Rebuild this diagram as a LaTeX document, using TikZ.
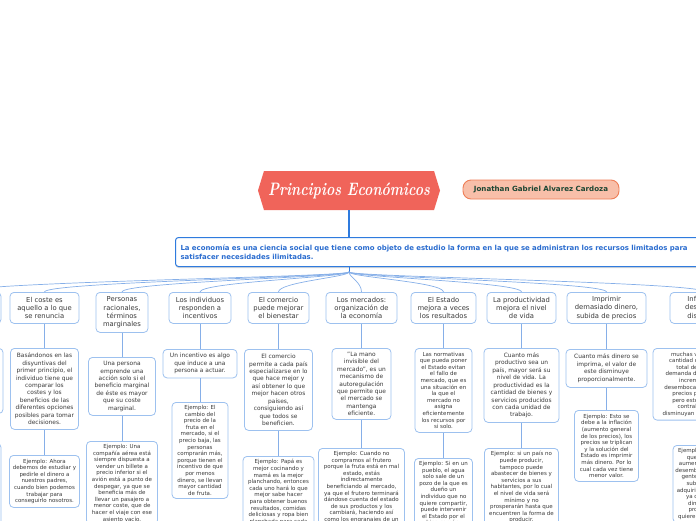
\documentclass[tikz,border=0pt]{standalone}
\usepackage{graphicx}
\usepackage{fontspec}
\setsansfont{DejaVu Sans}
\usetikzlibrary{shapes.symbols, shadows}
\definecolor{titrec}{HTML}{F0645A}
\definecolor{auteurc}{HTML}{F8BFA9}
\definecolor{auteurb}{HTML}{EE7E57}
\definecolor{auteurt}{HTML}{1C4633}
\definecolor{bleu}{HTML}{2F7BDE}
\definecolor{bleut}{HTML}{2A6CCF}
\definecolor{bord}{HTML}{9DC1EF}
\definecolor{lien}{HTML}{86AFE8}
\definecolor{texte}{HTML}{3A3A3A}

\begin{document}
\begin{tikzpicture}[
  x=1pt, y=-1pt,
  font=\sffamily,
  cadre/.style={rounded corners=4pt, align=center, anchor=north, draw=bord, fill=white,
                line width=0.8pt, text=texte, inner xsep=2pt, inner ysep=3.5pt},
  princ/.style={cadre, font=\sffamily\fontsize{6.8}{8.3}\selectfont, minimum height=31pt},
  defi/.style={cadre, font=\sffamily\fontsize{5.9}{7.45}\selectfont},
  exem/.style={cadre, font=\sffamily\fontsize{5.5}{6.6}\selectfont, inner ysep=3pt},
  fl/.style={draw=lien, line width=0.8pt},
  evt/.style={draw=lien, line width=0.7pt},
]
\useasboundingbox (0,0) rectangle (696,520);
\clip (0,0) rectangle (696,520);
% le titre et l'auteur
\node[shape=signal, signal to=west and east, signal pointer angle=146, fill=titrec,
      minimum width=182pt, minimum height=39pt, inner sep=0pt, text=white] (titre) at (349,190.5)
  {\rmfamily\bfseries\itshape\scalebox{0.78}[1]{\fontsize{18}{18}\selectfont Principios Económicos}};
\node[rounded corners=8pt, draw=auteurb, fill=auteurc, line width=0.9pt,
      minimum width=156pt, minimum height=19pt, inner sep=0pt, text=auteurt,
      font=\sffamily\bfseries\fontsize{7.1}{8}\selectfont] (auteur) at (541,189.5)
  {Jonathan Gabriel Alvarez Cardoza};
% la définition centrale
\node[anchor=north west, draw=bleu, line width=1pt, rounded corners=3pt, fill=white,
      minimum width=545pt, minimum height=29pt, text width=535pt, align=left, inner xsep=4pt,
      text=bleut, font=\sffamily\bfseries\fontsize{6.95}{8.8}\selectfont,
      drop shadow={shadow xshift=0pt, shadow yshift=-1.5pt, opacity=0.3}] (eco) at (175,237)
  {La economía es una ciencia social que tiene como objeto de estudio la forma en la que se administran los recursos limitados para\\satisfacer necesidades ilimitadas.};
\coordinate (hub) at (349,272);
% les principes
\node[princ, minimum width=76pt] (p1) at (-37,292) {};
\node[princ, minimum width=69pt] (p2) at (44.5,292) {El coste es\\aquello a lo que\\se renuncia};
\node[princ, minimum width=52pt, minimum height=40pt] (p3) at (122,292) {Personas\\racionales,\\términos\\marginales};
\node[princ, minimum width=62pt] (p4) at (200,292) {Los individuos\\responden a\\incentivos};
\node[princ, minimum width=61pt] (p5) at (278.5,292) {El comercio\\puede mejorar\\el bienestar};
\node[princ, minimum width=71pt] (p6) at (361.5,292) {Los mercados:\\organización de\\la economía};
\node[princ, minimum width=65pt] (p7) at (443.5,292) {El Estado\\mejora a veces\\los resultados};
\node[princ, minimum width=69pt] (p8) at (521.5,292) {La productividad\\mejora el nivel\\de vida};
\node[princ, minimum width=79pt] (p9) at (606.5,292) {Imprimir\\demasiado dinero,\\subida de precios};
\node[princ, minimum width=70pt] (p10) at (705,292) {Inflación y\\desempleo,\\disyuntiva};
% les explications
\node[defi, minimum width=80pt, minimum height=65pt] (d1) at (-37,348) {};
\node[defi, minimum width=68pt, minimum height=81pt] (d2) at (44.5,348)
  {Basándonos en las\\disyuntivas del\\primer principio, el\\individuo tiene que\\comparar los\\costes y los\\beneficios de las\\diferentes opciones\\posibles para tomar\\decisiones.};
\node[defi, minimum width=67pt, minimum height=58pt] (d3) at (122,357)
  {Una persona\\emprende una\\acción solo si el\\beneficio marginal\\de éste es mayor\\que su coste\\marginal.};
\node[defi, minimum width=74pt, minimum height=28.5pt] (d4) at (200,349)
  {Un incentivo es algo\\que induce a una\\persona a actuar.};
\node[defi, minimum width=68pt, minimum height=81pt] (d5) at (278.5,349)
  {El comercio\\permite a cada país\\especializarse en lo\\que hace mejor y\\así obtener lo que\\mejor hacen otros\\países,\\consiguiendo así\\que todos se\\beneficien.};
\node[defi, minimum width=59pt, minimum height=71pt] (d6) at (361.5,348)
  {"La mano\\invisible del\\mercado", es un\\mecanismo de\\autoregulación\\que permite que\\el mercado se\\mantenga\\eficiente.};
\node[defi, font=\sffamily\fontsize{5.5}{6.6}\selectfont, minimum width=57pt, minimum height=84pt] (d7) at (443.5,348)
  {Las normativas\\que pueda poner\\el Estado evitan\\el fallo de\\mercado, que es\\una situación en\\la que el\\mercado no\\asigna\\eficientemente\\los recursos por\\si solo.};
\node[defi, minimum width=75pt, minimum height=74pt] (d8) at (521.5,348)
  {Cuanto más\\productivo sea un\\país, mayor será su\\nivel de vida. La\\productividad es la\\cantidad de bienes y\\servicios producidos\\con cada unidad de\\trabajo.};
\node[defi, minimum width=81pt, minimum height=38pt] (d9) at (606.5,349)
  {Cuanto más dinero se\\imprima, el valor de\\este disminuye\\proporcionalmente.};
\node[defi, font=\sffamily\fontsize{5.5}{6.6}\selectfont, minimum width=104pt, minimum height=70pt] (d10) at (705,348)
  {muchas veces cuando la\\cantidad de dinero que es\\total del gobierno, la\\demanda de bienes también\\incrementa, lo que\\desemboca en una subida de\\precios por parte de las\\pero esto también hace\\contrabalancea que\\disminuyan los desempleados.};
% les exemples
\node[exem, minimum width=76pt, minimum height=100pt] (e1) at (-37,443) {};
\node[exem, minimum width=70pt, minimum height=52pt] (e2) at (44.5,455)
  {Ejemplo: Ahora\\debemos de estudiar y\\pedirle el dinero a\\nuestros padres,\\cuando bien podemos\\trabajar para\\conseguirlo nosotros.};
\node[exem, minimum width=71pt] (e3) at (122,441)
  {Ejemplo: Una\\compañía aérea está\\siempre dispuesta a\\vender un billete a\\precio inferior si el\\avión está a punto de\\despegar, ya que se\\beneficia más de\\llevar un pasajero a\\menor coste, que de\\hacer el viaje con ese\\asiento vacío.};
\node[exem, minimum width=56pt] (e4) at (200,402)
  {Ejemplo: El\\cambio del\\precio de la\\fruta en el\\mercado, si el\\precio baja, las\\personas\\comprarán más,\\porque tienen el\\incentivo de que\\por menos\\dinero, se llevan\\mayor cantidad\\de fruta.};
\node[exem, minimum width=71pt] (e5) at (278.5,456)
  {Ejemplo: Papá es\\mejor cocinando y\\mamá es la mejor\\planchando, entonces\\cada uno hará lo que\\mejor sabe hacer\\para obtener buenos\\resultados, comidas\\deliciosas y ropa bien\\planchada para cada\\uno.};
\node[exem, minimum width=86pt] (e6) at (361.5,448)
  {Ejemplo: Cuando no\\compramos al frutero\\porque la fruta está en mal\\estado, estás\\indirectamente\\beneficiando al mercado,\\ya que el frutero terminará\\dándose cuenta del estado\\de sus productos y los\\cambiará, haciendo así\\como los engranajes de un\\reloj.};
\node[exem, minimum width=58pt] (e7) at (443.5,458)
  {Ejemplo: Si en un\\pueblo, el agua\\solo sale de un\\pozo de la que es\\dueño un\\individuo que no\\quiere compartir,\\puede intervenir\\el Estado por el\\bien común.};
\node[exem, minimum width=74pt] (e8) at (521.5,448)
  {Ejemplo: si un país no\\puede producir,\\tampoco puede\\abastecer de bienes y\\servicios a sus\\habitantes, por lo cual\\el nivel de vida será\\mínimo y no\\prosperarán hasta que\\encuentren la forma de\\producir.};
\node[exem, minimum width=64pt, minimum height=71pt] (e9) at (606.5,410)
  {Ejemplo: Esto se\\debe a la inflación\\(aumento general\\de los precios), los\\precios se triplican\\y la solución del\\Estado es imprimir\\más dinero. Por lo\\cual cada vez tiene\\menor valor.};
\node[exem, minimum width=64pt] (e10) at (705,445)
  {Ejemplo: Cuando el\\que gobierna\\aumenta el dinero,\\desemboca en que la\\gente tenga más\\subsidio para\\adquirir más bienes,\\ya que tienen\\dinero, y los\\productores\\quieren ganar más.};
% liaisons
\draw[bleu, line width=1.2pt] (titre.south) -- (titre.south |- eco.north);
\draw[bleu, line width=1pt] (hub |- eco.south) -- (hub);
\draw[evt] (hub) .. controls +(0,5) and +(0,-10) .. (p1.north);
\draw[evt] (hub) .. controls +(0,5) and +(0,-10) .. (p2.north);
\draw[evt] (hub) .. controls +(0,5) and +(0,-10) .. (p3.north);
\draw[evt] (hub) .. controls +(0,5) and +(0,-10) .. (p4.north);
\draw[evt] (hub) .. controls +(0,5) and +(0,-10) .. (p5.north);
\draw[evt] (hub) .. controls +(0,5) and +(0,-10) .. (p6.north);
\draw[evt] (hub) .. controls +(0,5) and +(0,-10) .. (p7.north);
\draw[evt] (hub) .. controls +(0,5) and +(0,-10) .. (p8.north);
\draw[evt] (hub) .. controls +(0,5) and +(0,-10) .. (p9.north);
\draw[evt] (hub) .. controls +(0,5) and +(0,-10) .. (p10.north);
\draw[fl] (p1) -- (d1);  \draw[fl] (d1) -- (e1);
\draw[fl] (p2) -- (d2);  \draw[fl] (d2) -- (e2);
\draw[fl] (p3) -- (d3);  \draw[fl] (d3) -- (e3);
\draw[fl] (p4) -- (d4);  \draw[fl] (d4) -- (e4);
\draw[fl] (p5) -- (d5);  \draw[fl] (d5) -- (e5);
\draw[fl] (p6) -- (d6);  \draw[fl] (d6) -- (e6);
\draw[fl] (p7) -- (d7);  \draw[fl] (d7) -- (e7);
\draw[fl] (p8) -- (d8);  \draw[fl] (d8) -- (e8);
\draw[fl] (p9) -- (d9);  \draw[fl] (d9) -- (e9);
\draw[fl] (p10) -- (d10);  \draw[fl] (d10) -- (e10);
\end{tikzpicture}
\end{document}
